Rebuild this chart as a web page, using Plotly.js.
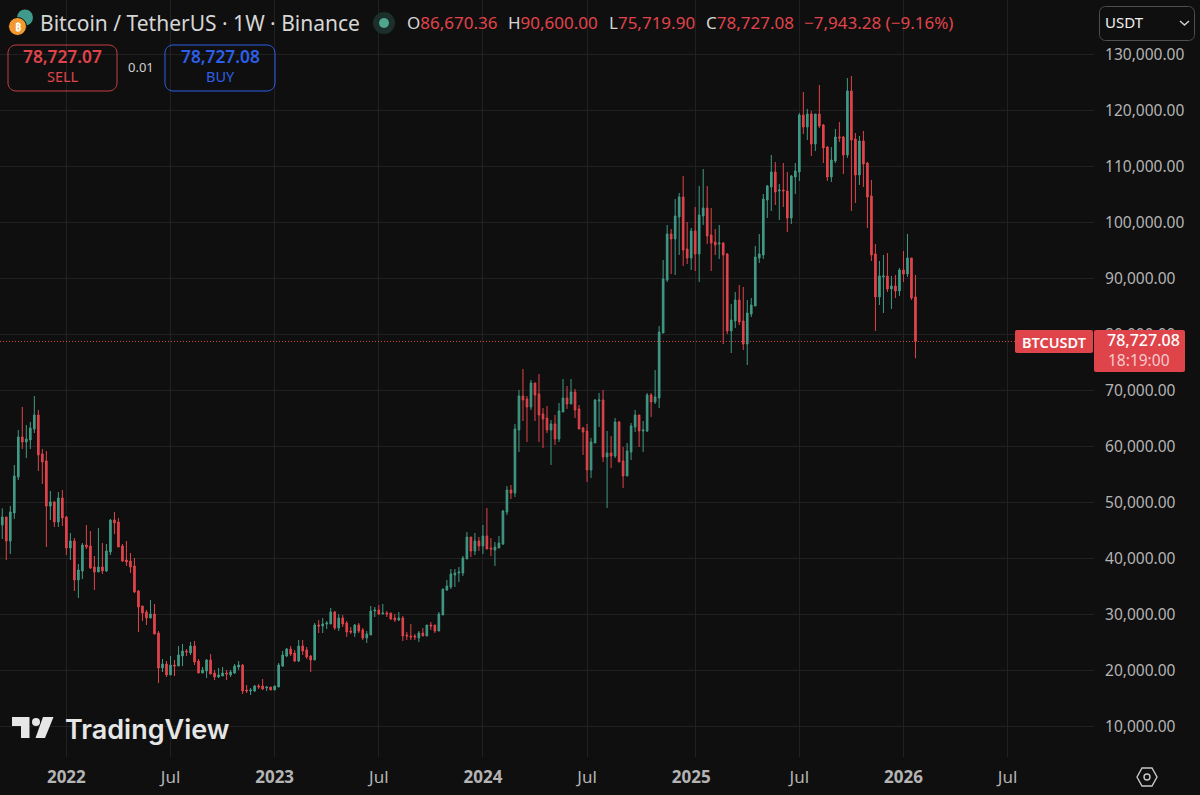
<!DOCTYPE html>
<html>
<head>
<meta charset="utf-8">
<script src="https://cdn.plot.ly/plotly-3.0.1.min.js"></script>
<style>html,body{margin:0;padding:0;background:#0f0f0f}#chart{width:1200px;height:795px}</style>
</head>
<body>
<div id="chart"></div>
<script>
const firstWeek = '2021-09-13';
const opens = [45950,47380,43090,48090,54520,61660,60770,61130,63090,65590,
58630,57380,49340,50060,46480,50770,47380,41840,43090,36130,
37730,42380,42200,38450,37560,38450,37730,41130,46840,46480,
42200,39700,39520,38630,34160,31480,30410,29340,30060,26660,
20410,21130,19170,20950,20770,22560,23450,23090,24340,21660,
19520,19880,21840,19520,18810,18990,19520,19170,19520,20590,
20950,16480,16300,16300,17200,17200,16840,17020,16480,17020,
20770,22550,23800,23090,21660,24340,23630,22550,21840,28090,
27910,28270,28270,30410,27550,29340,28450,27020,26660,28090,
27200,25770,26300,30590,30770,30050,30230,30230,29340,28980,
29340,26300,26130,26130,25770,26660,26130,28090,28090,27020,
29880,34340,34880,37020,37370,37370,39880,43800,41300,43090,
42200,43980,41840,41480,41840,42550,48270,52200,51670,62920,
68990,68450,67020,71310,69340,65770,65060,62920,63990,61310,
66130,68630,67560,69700,66670,63270,62740,55770,60590,68090,
68270,58090,58810,58270,64340,57380,54700,58990,63450,65590,
62740,62740,69160,67910,68630,80230,89700,97910,97020,100950,
104520,95230,93630,98450,94340,101120,102550,97730,96480,96130,
96300,94340,80590,82380,86120,82380,78270,83630,85050,93630,
94160,103980,106300,108980,105590,105770,105590,100770,108090,108990,
119160,117020,119340,113990,119340,117380,113450,108090,110950,115240,
115240,112020,123450,114880,108450,114520,110590,104700,94350,86670,
90240,90420,88100,88630,87740,91490,90770,93630,86670.36];
const highs = [48920,47380,49340,56660,62910,67020,63800,64340,68980,66480,
59520,59160,52020,50230,51840,52200,47560,44520,43630,38980,
42730,45950,44880,40410,45410,42730,42560,47020,48270,47200,
42560,43090,40950,40060,34340,31480,30770,32560,31840,27020,
22020,21660,22560,21840,24340,24700,23810,25060,25240,22020,
20590,22020,22910,20060,20410,20590,20060,20060,21130,21660,
21130,17380,16840,17380,17560,18450,17200,17020,17200,21300,
23450,23980,24340,23630,25410,25410,24160,22730,28450,28980,
29340,28800,31130,30590,30050,29880,28800,27730,28270,28450,
27550,27020,31480,31300,31660,31840,30590,30230,30050,30410,
29700,26840,28270,26480,27020,27550,28090,28630,28090,30410,
34520,36130,38090,38090,38450,40410,44700,43800,44520,43800,
45950,48980,43620,42910,43980,48620,52920,53090,63990,70060,
73810,68990,71840,71310,72910,66840,67200,64700,65590,67740,
72020,70770,72020,70240,67380,63450,63990,61490,68450,69520,
70060,62740,61840,65060,64520,59880,60590,64160,66490,65590,
64520,69520,69520,73630,81480,93270,99520,98800,104160,105230,
108270,100050,98980,102730,106480,109520,106480,102550,98800,99520,
96480,94520,85410,87550,88800,88450,86120,86480,95770,97910,
105050,106660,112020,110770,106840,110590,108990,108450,110590,119520,
123270,120240,119880,119340,124520,117560,113630,113450,116670,117910,
115420,125770,126130,115950,115420,116310,110770,107560,96130,93090,
94170,94520,90420,90600,91850,94880,97920,93630,90600];
const lows = [43450,39700,40770,47020,53980,59520,57910,59520,62380,55590,
53270,42020,46840,45590,45590,45770,40590,39700,34160,32910,
36310,41660,38090,34340,37560,37200,37560,40590,44340,42020,
39340,38630,37380,33810,26840,28810,28090,29340,26480,17740,
19700,18810,19170,18990,20770,20770,22560,22740,20950,19520,
19520,18630,19340,18270,18630,18990,18270,18810,19340,20060,
15770,15950,15590,16130,16660,16480,16300,16480,16480,17020,
20590,22380,22550,21480,21480,22730,22020,19700,21840,26660,
26660,27380,28270,27200,27020,27730,25950,26480,25950,26660,
25410,24880,26300,29520,29880,30050,29520,28980,28630,28800,
25230,25410,25410,25410,25050,26130,26130,27200,26660,27020,
29880,34160,34520,34880,35770,36840,39880,40230,40590,41300,
40770,41660,40410,38630,41840,42380,47740,50590,50950,58990,
64520,60770,66490,64520,60770,59700,62380,56670,60240,60770,
66130,66670,67560,65060,63090,58450,53630,54340,60590,63450,
57200,48990,56130,57920,57200,52560,54700,57560,62560,59880,
58990,62560,65240,67560,66840,80230,89340,90770,90590,94160,
92200,92550,91480,91300,89340,99520,96130,91300,94160,93450,
78270,80050,76660,81130,81660,77200,74520,83090,85050,92730,
93450,100770,102020,103090,100410,102730,98270,99700,105060,107380,
115770,114700,111840,112740,116840,110590,107380,107200,110590,114340,
108630,111490,102020,103450,106670,106310,98990,93090,80600,85240,
83810,87560,84520,86490,86850,89350,90240,86130,75719.9];
const closes = [47380,43090,48270,54700,61660,60770,61310,63270,65590,58450,
57200,49340,50060,46480,50770,47200,41840,43090,36130,37910,
42380,42020,38270,37560,38450,37730,41310,46840,46310,42020,
39520,39340,38450,33980,31310,30230,29340,30060,26480,20410,
21130,19170,20950,20770,22740,23450,23270,24340,21490,19520,
20060,21840,19340,18810,19170,19520,19340,19700,20770,20950,
16310,16300,16480,17200,17020,16660,17020,16480,17200,20950,
22730,23800,22910,21660,24340,23450,22380,21840,28090,27910,
28270,28450,30410,27550,29340,28270,26840,26840,28090,27020,
25770,26480,30590,30770,30050,30230,30050,29160,28980,29340,
26130,26130,25950,25950,26660,26130,28090,27910,27020,30050,
34520,35050,37200,37370,37550,40050,43800,41300,43090,42200,
43980,41660,41660,42020,42730,48450,52200,51670,63090,68990,
68270,67020,71310,69160,65590,64880,62920,63990,61310,66310,
68630,67560,69700,66490,63090,62560,55770,60770,68270,68270,
58090,58810,58270,64340,57200,54700,59170,63630,65590,62740,
62920,69160,67910,68810,80400,89880,97910,97020,101120,104520,
95050,93630,98450,94340,101300,102550,97550,96300,95950,96300,
94160,80590,82550,86120,82200,78270,83800,85230,93800,94340,
104160,106480,108980,105410,105770,105590,100770,108270,109170,119160,
117020,119340,113990,119340,117200,113270,108090,111130,115240,115060,
112020,123450,114700,108450,114520,110420,104520,94170,86670,90420,
90420,88100,88630,87740,91490,90770,93630,86490,78727.08];

const gridDates = ['2022-01-03','2022-07-04','2023-01-02','2023-07-03','2024-01-01','2024-07-01','2025-01-06','2025-07-07','2026-01-05','2026-07-06'];
const labelDates = ['2022-01-03','2022-07-04','2023-01-02','2023-07-03','2024-01-01','2024-07-01','2024-12-30','2025-07-07','2026-01-05','2026-07-06'];
const labelTexts = ['<b>2022</b>','Jul','<b>2023</b>','Jul','<b>2024</b>','Jul','<b>2025</b>','Jul','<b>2026</b>','Jul'];
const priceTicks = [10000,20000,30000,40000,50000,60000,70000,80000,90000,100000,110000,120000,130000];
const lastPrice = 78727.08;

const UP = '#419A85', DOWN = '#E0444B', BLUE = '#2E5FEA', BG = '#0f0f0f', GRID = '#212121', AXIS = '#B4B4B4';
const FONT = '"Noto Sans", sans-serif';
const W = 1094, H = 757;

const weeks = opens.map((_, i) => {
  const d = new Date(firstWeek + 'T00:00:00Z');
  d.setUTCDate(d.getUTCDate() + 7 * i);
  return d.toISOString().slice(0, 10);
});

const px = x => x / W, py = y => 1 - y / H;
const note = (x, y, text, size, color, anchor, weight, family) => ({
  xref: 'paper', yref: 'paper', x: px(x), y: py(y), text, showarrow: false,
  xanchor: anchor || 'left', yanchor: 'middle', borderpad: 0,
  font: {family: family || FONT, size, color, weight: weight || 400}
});
const path = (d, line, fill, lw) => ({
  type: 'path', xref: 'paper', yref: 'paper', path: d,
  line: {color: line || 'rgba(0,0,0,0)', width: lw === undefined ? 1 : lw},
  fillcolor: fill || 'rgba(0,0,0,0)', layer: 'above'
});
const P = (x, y) => px(x) + ',' + py(y);
const round = (x0, y0, x1, y1, r, line, fill, lw) => {
  const ky = 0.55 * r;
  const d = 'M' + P(x0 + r, y0) + 'L' + P(x1 - r, y0) +
    'C' + P(x1 - r + ky, y0) + ' ' + P(x1, y0 + r - ky) + ' ' + P(x1, y0 + r) +
    'L' + P(x1, y1 - r) +
    'C' + P(x1, y1 - r + ky) + ' ' + P(x1 - r + ky, y1) + ' ' + P(x1 - r, y1) +
    'L' + P(x0 + r, y1) +
    'C' + P(x0 + r - ky, y1) + ' ' + P(x0, y1 - r + ky) + ' ' + P(x0, y1 - r) +
    'L' + P(x0, y0 + r) +
    'C' + P(x0, y0 + r - ky) + ' ' + P(x0 + r - ky, y0) + ' ' + P(x0 + r, y0) + 'Z';
  return path(d, line, fill, lw);
};
const poly = (pts, line, fill, lw, open) => path('M' + pts.map(p => P(p[0], p[1])).join('L') + (open ? '' : 'Z'), line, fill, lw);
const circle = (cx, cy, r, line, fill, lw) => ({
  type: 'circle', xref: 'paper', yref: 'paper', x0: px(cx - r), x1: px(cx + r), y0: py(cy + r), y1: py(cy - r),
  line: {color: line || 'rgba(0,0,0,0)', width: lw === undefined ? 1 : lw}, fillcolor: fill || 'rgba(0,0,0,0)', layer: 'above'
});

const shapes = [
  {type: 'line', xref: 'paper', yref: 'y', x0: 0, x1: px(1016), y0: lastPrice, y1: lastPrice,
   line: {color: DOWN, width: 1, dash: '1px,2px'}, layer: 'above'},
  circle(25, 17.5, 8, null, '#3f9a8c'),
  circle(17.5, 26.5, 9, BG, '#F39A2E', 1),
  circle(384, 23, 11, null, '#1d2f2b'),
  circle(384, 23, 5, null, '#4FA58F'),
  round(8, 45, 117, 91, 8, '#C93F45', null, 1),
  round(165, 45, 275, 91, 8, BLUE, null, 1),
  round(1099.5, 6.5, 1194.5, 40.5, 6, '#4f4f4f', BG, 1),
  poly([[1180, 21], [1184.5, 25], [1189, 21]], '#cfcfcf', null, 1.5, true),
  round(1015, 330, 1093, 353, 2, null, DOWN, 0),
  round(1094, 330, 1185, 372, 2, null, DOWN, 0),
  poly([[12, 717], [29.5, 717], [29.5, 738], [21, 738], [21, 726], [12, 726]], null, '#E6E6E6', 0),
  circle(36, 722, 4, null, '#E6E6E6', 0),
  poly([[43, 717], [53.5, 717], [45, 738], [35.5, 738]], null, '#E6E6E6', 0),
  poly([[1137, 777], [1142, 768], [1152, 768], [1157, 777], [1152, 786], [1142, 786]], '#C8C8C8', null, 1.4),
  circle(1147, 777, 3, '#C8C8C8', null, 1.4)
];

const annotations = [
  note(17.5, 26.5, '₿', 11, '#ffffff', 'center', 700),
  note(39, 23, 'Bitcoin / TetherUS · 1W · Binance', 21, '#D6D6D6'),
  note(406, 23, '<span style="color:#D6D6D6">O</span>86,670.36', 17, DOWN),
  note(507, 23, '<span style="color:#D6D6D6">H</span>90,600.00', 17, DOWN),
  note(608, 23, '<span style="color:#D6D6D6">L</span>75,719.90', 17, DOWN),
  note(705, 23, '<span style="color:#D6D6D6">C</span>78,727.08', 17, DOWN),
  note(803, 23, '−7,943.28 (−9.16%)', 17, DOWN),
  note(62.5, 57, '78,727.07', 17.3, DOWN, 'center', 600),
  note(62.5, 76, 'SELL', 14.5, DOWN, 'center'),
  note(141, 67, '0.01', 13, '#CFCFCF', 'center'),
  note(220, 57, '78,727.08', 17.3, BLUE, 'center', 600),
  note(220, 76, 'BUY', 14.5, BLUE, 'center'),
  note(1104, 22, 'USDT', 15, '#F0F0F0'),
  note(1054.5, 342, 'BTCUSDT', 14.5, '#ffffff', 'center', 600),
  note(1143, 340, '78,727.08', 16, '#ffffff', 'center', 500),
  note(1139, 360, '18:19:00', 15.5, '#F7CBCD', 'center'),
  note(64, 729, 'TradingView', 27, '#E6E6E6', 'left', 600, 'Inter, "Noto Sans", sans-serif')
];

const trace = {
  type: 'candlestick', x: weeks, open: opens, high: highs, low: lows, close: closes,
  increasing: {line: {color: UP, width: 1}, fillcolor: UP},
  decreasing: {line: {color: DOWN, width: 1}, fillcolor: DOWN},
  whiskerwidth: 0, hoverinfo: 'skip'
};

const layout = {
  width: 1200, height: 795, paper_bgcolor: BG, plot_bgcolor: BG,
  margin: {l: 0, r: 106, t: 0, b: 38, pad: 0}, showlegend: false, boxgap: 0.42,
  font: {family: FONT, color: AXIS, size: 15},
  xaxis: {
    type: 'date', range: ['2021-09-09', '2026-12-04'], rangeslider: {visible: false},
    tickmode: 'array', tickvals: labelDates, ticktext: labelTexts, tickangle: 0,
    showgrid: false, zeroline: false, showline: false,
    ticks: 'outside', ticklen: 5, tickcolor: 'rgba(0,0,0,0)', tickwidth: 0,
    tickfont: {family: FONT, size: 17, color: AXIS},
    minor: {tickmode: 'array', tickvals: gridDates, showgrid: true, gridcolor: GRID, gridwidth: 1, ticks: ''}
  },
  yaxis: {
    type: 'linear', side: 'right', range: [4520, 139696],
    tickmode: 'array', tickvals: priceTicks, tickformat: ',.2f',
    showgrid: true, gridcolor: GRID, gridwidth: 1, zeroline: false, showline: false,
    ticks: 'outside', ticklen: 7, tickcolor: 'rgba(0,0,0,0)', tickwidth: 0,
    tickfont: {family: FONT, size: 15.5, color: AXIS}
  },
  shapes, annotations
};

Plotly.newPlot('chart', [trace], layout, {displayModeBar: false, staticPlot: true});
</script>
</body>
</html>
